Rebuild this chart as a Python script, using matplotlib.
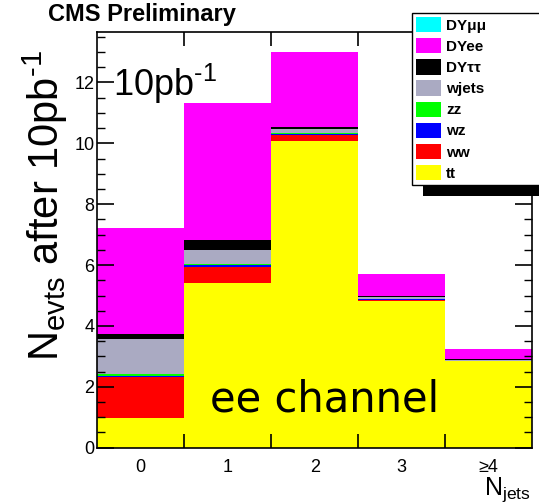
"""plot.py — N_jets stacked distribution, ee channel (CMS Preliminary)."""
import matplotlib
matplotlib.use("Agg")
import matplotlib.pyplot as plt
from matplotlib.patches import Patch, Rectangle
from matplotlib.ticker import FixedLocator, MultipleLocator
import numpy as np

plt.rcParams["font.family"] = ["Liberation Sans", "DejaVu Sans"]
plt.rcParams["mathtext.fontset"] = "custom"
plt.rcParams["mathtext.rm"] = "Liberation Sans"
plt.rcParams["mathtext.it"] = "Liberation Sans"

# ── data (events per jet bin, stacked bottom -> top) ─────────────────
jet_bins = [0, 1, 2, 3, 4]
jet_labels = ["0", "1", "2", "3", "≥4"]

tt = [0.97, 5.40, 10.08, 4.82, 2.84]
ww = [1.36, 0.54, 0.21, 0.03, 0.01]
wz = [0.04, 0.05, 0.03, 0.02, 0.01]
zz = [0.04, 0.04, 0.02, 0.01, 0.00]
wjets = [1.15, 0.46, 0.12, 0.06, 0.01]
dy_tautau = [0.19, 0.32, 0.08, 0.04, 0.04]
dy_ee = [3.48, 4.52, 2.46, 0.74, 0.33]
dy_mumu = [0.0, 0.0, 0.0, 0.0, 0.0]

samples = [
    ("tt", tt, "#ffff00"),
    ("ww", ww, "#ff0000"),
    ("wz", wz, "#0000ff"),
    ("zz", zz, "#00ff00"),
    ("wjets", wjets, "#aaaac2"),
    ("DYττ", dy_tautau, "#000000"),
    ("DYee", dy_ee, "#ff00ff"),
    ("DYμμ", dy_mumu, "#00ffff"),
]

fig = plt.figure(figsize=(5.39, 5.04), dpi=100)
ax = fig.add_axes([0.1805, 0.1117, 0.8065, 0.8243])

bottom = np.zeros(len(jet_bins))
for name, values, color in samples:
    ax.bar(jet_bins, values, width=1.0, bottom=bottom, color=color, linewidth=0)
    bottom += np.array(values)

ax.set_xlim(-0.5, 4.5)
ax.set_ylim(0, 13.65)

# ROOT-like ticks: inward, on all sides
ax.xaxis.set_major_locator(FixedLocator([0.5, 1.5, 2.5, 3.5]))
ax.xaxis.set_major_formatter(plt.NullFormatter())
ax.set_xticks(jet_bins, jet_labels, minor=True)
ax.tick_params(axis="x", which="major", direction="in", length=10, width=1.2, top=True)
ax.tick_params(axis="x", which="minor", length=0, labelsize=13, pad=8)
ax.yaxis.set_major_locator(MultipleLocator(2))
ax.yaxis.set_minor_locator(MultipleLocator(0.5))
ax.tick_params(axis="y", which="major", direction="in", length=12, width=1.2, right=True,
               labelsize=13, pad=2)
ax.tick_params(axis="y", which="minor", direction="in", length=6, width=1.0, right=True)
for spine in ax.spines.values():
    spine.set_linewidth(1.2)

fig.text(0.084, 0.593, r"N$_{\rm evts}$ after 10pb$^{\text{-1}}$", rotation=90,
         ha="center", va="center", fontsize=30)
fig.text(0.985, 0.0, r"N$_{\rm jets}$", ha="right", va="bottom", fontsize=18)
fig.text(0.089, 0.948, "CMS Preliminary", fontsize=17, fontweight="bold", va="bottom")

ax.text(0.035, 0.93, r"10pb$^{\text{-1}}$", transform=ax.transAxes, fontsize=26,
        va="top", ha="left")
ax.text(0.26, 0.065, "ee channel", transform=ax.transAxes, fontsize=30,
        family="DejaVu Sans", va="bottom", ha="left")

# legend with ROOT-style shadow
handles = [Patch(facecolor=c, edgecolor="none", label=n) for n, _, c in reversed(samples)]
fig.patches.append(Rectangle((0.784, 0.612), 0.3, 0.35, transform=fig.transFigure,
                             facecolor="black", edgecolor="none", zorder=5))
leg = fig.legend(handles=handles, loc="upper left", bbox_to_anchor=(0.764, 0.975, 0.25, 0.0),
                 mode="expand", frameon=True, fancybox=False, framealpha=1,
                 edgecolor="black", prop={"weight": "bold", "size": 11},
                 handlelength=1.6, handleheight=1.15, labelspacing=0.35,
                 borderpad=0.3, handletextpad=0.35, borderaxespad=0)
leg.set_zorder(6)
leg.get_frame().set_linewidth(1.0)

fig.savefig("out.png", dpi=100)
